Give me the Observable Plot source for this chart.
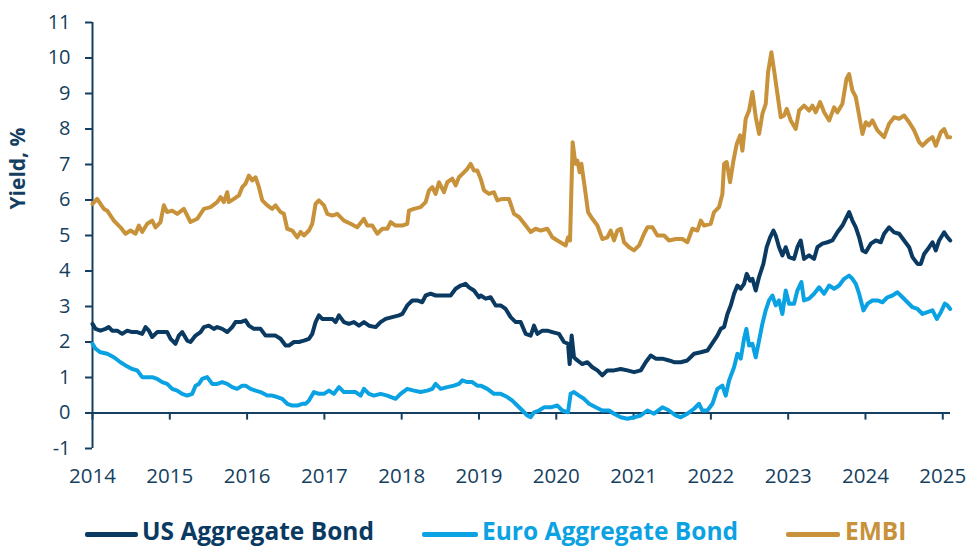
<!DOCTYPE html>
<html>
<head>
<meta charset="utf-8">
<script src="https://cdn.jsdelivr.net/npm/d3@7"></script>
<script src="https://cdn.jsdelivr.net/npm/@observablehq/plot@0.6"></script>
<style>
  html, body { margin: 0; padding: 0; background: #fff; width: 966px; height: 546px; overflow: hidden; }
  #wrap { position: relative; width: 966px; height: 546px; }
  .leg { position: absolute; top: 519px; height: 27px; font-family: "Open Sans", sans-serif; font-weight: 700; font-size: 24.5px; line-height: 24.5px; white-space: nowrap; }
  .sw { position: absolute; top: 532px; height: 5px; border-radius: 2px; }
</style>
</head>
<body>
<div id="wrap"><div id="chart"></div></div>
<script>
// ---- Data (decimal year, yield %) ----
const seriesNames = ["US Aggregate Bond", "Euro Aggregate Bond", "EMBI"];
const seriesColors = ["#0a3a62", "#0aa2e2", "#c8923a"];
const yearTicks = [2014, 2015, 2016, 2017, 2018, 2019, 2020, 2021, 2022, 2023, 2024, 2025];
const yTicks = [-1, 0, 1, 2, 3, 4, 5, 6, 7, 8, 9, 10, 11];

const usAgg = [
  [2014.000,2.51],[2014.039,2.37],[2014.103,2.32],[2014.168,2.37],[2014.211,2.42],[2014.254,2.32],[2014.319,2.32],[2014.384,2.23],
  [2014.449,2.32],[2014.513,2.28],[2014.578,2.28],[2014.643,2.23],[2014.686,2.42],[2014.729,2.32],[2014.772,2.14],[2014.837,2.28],
  [2014.901,2.28],[2014.966,2.28],[2015.010,2.09],[2015.074,1.95],[2015.117,2.18],[2015.160,2.28],[2015.225,2.04],[2015.268,2.00],
  [2015.333,2.18],[2015.398,2.28],[2015.441,2.42],[2015.505,2.46],[2015.570,2.37],[2015.613,2.42],[2015.678,2.37],[2015.743,2.28],
  [2015.807,2.42],[2015.850,2.56],[2015.915,2.56],[2015.980,2.61],[2016.023,2.46],[2016.088,2.37],[2016.174,2.37],[2016.239,2.18],
  [2016.303,2.18],[2016.368,2.18],[2016.433,2.09],[2016.498,1.90],[2016.541,1.90],[2016.606,2.00],[2016.670,2.00],[2016.735,2.04],
  [2016.800,2.09],[2016.843,2.23],[2016.886,2.56],[2016.929,2.75],[2016.972,2.65],[2017.037,2.65],[2017.102,2.65],[2017.145,2.56],
  [2017.188,2.75],[2017.253,2.56],[2017.317,2.51],[2017.382,2.56],[2017.447,2.46],[2017.512,2.56],[2017.577,2.46],[2017.663,2.42],
  [2017.727,2.56],[2017.792,2.65],[2017.878,2.70],[2017.965,2.75],[2018.008,2.79],[2018.072,3.03],[2018.137,3.17],[2018.202,3.17],
  [2018.267,3.12],[2018.310,3.31],[2018.374,3.36],[2018.439,3.31],[2018.504,3.31],[2018.569,3.31],[2018.633,3.31],[2018.698,3.50],
  [2018.763,3.59],[2018.827,3.64],[2018.871,3.54],[2018.935,3.45],[2019.000,3.26],[2019.022,3.31],[2019.086,3.22],[2019.151,3.26],
  [2019.216,3.03],[2019.280,3.03],[2019.345,2.93],[2019.410,2.70],[2019.475,2.56],[2019.539,2.56],[2019.604,2.23],[2019.669,2.18],
  [2019.712,2.46],[2019.755,2.23],[2019.820,2.32],[2019.884,2.32],[2019.949,2.28],[2020.035,2.23],[2020.100,2.00],[2020.152,1.95],
  [2020.173,1.38],[2020.199,2.18],[2020.229,1.57],[2020.273,1.48],[2020.337,1.38],[2020.402,1.43],[2020.467,1.29],[2020.532,1.20],
  [2020.596,1.06],[2020.661,1.20],[2020.747,1.20],[2020.834,1.24],[2020.920,1.20],[2021.006,1.15],[2021.093,1.20],[2021.157,1.43],
  [2021.222,1.62],[2021.287,1.53],[2021.373,1.53],[2021.459,1.48],[2021.524,1.43],[2021.610,1.43],[2021.696,1.48],[2021.783,1.67],
  [2021.869,1.71],[2021.955,1.76],[2021.998,1.90],[2022.041,2.04],[2022.084,2.18],[2022.128,2.37],[2022.171,2.42],[2022.214,2.79],
  [2022.257,3.03],[2022.300,3.36],[2022.343,3.59],[2022.386,3.50],[2022.429,3.64],[2022.464,3.92],[2022.507,3.73],[2022.537,3.78],
  [2022.580,3.45],[2022.623,3.83],[2022.679,4.20],[2022.722,4.67],[2022.766,4.95],[2022.809,5.14],[2022.839,5.00],[2022.882,4.67],
  [2022.925,4.44],[2022.968,4.67],[2023.011,4.39],[2023.076,4.34],[2023.119,4.67],[2023.162,4.86],[2023.205,4.34],[2023.270,4.44],
  [2023.335,4.34],[2023.378,4.67],[2023.443,4.77],[2023.508,4.81],[2023.572,4.86],[2023.637,5.09],[2023.702,5.28],[2023.745,5.47],
  [2023.788,5.66],[2023.831,5.42],[2023.875,5.23],[2023.918,4.95],[2023.961,4.58],[2024.004,4.53],[2024.069,4.77],[2024.133,4.86],
  [2024.198,4.81],[2024.241,5.05],[2024.306,5.23],[2024.371,5.09],[2024.435,5.05],[2024.500,4.86],[2024.565,4.67],[2024.608,4.39],
  [2024.673,4.20],[2024.716,4.20],[2024.759,4.48],[2024.824,4.67],[2024.867,4.81],[2024.910,4.58],[2024.953,4.86],[2025.018,5.09],
  [2025.061,4.95],[2025.096,4.86]
];

const euroAgg = [
  [2014.000,1.95],[2014.039,1.81],[2014.103,1.71],[2014.190,1.67],[2014.276,1.57],[2014.362,1.43],[2014.427,1.34],[2014.513,1.24],
  [2014.578,1.20],[2014.643,1.01],[2014.708,1.01],[2014.772,1.01],[2014.837,0.96],[2014.901,0.87],[2014.966,0.82],[2015.031,0.68],
  [2015.096,0.63],[2015.160,0.54],[2015.225,0.49],[2015.290,0.54],[2015.333,0.77],[2015.376,0.82],[2015.419,0.96],[2015.484,1.01],
  [2015.548,0.82],[2015.613,0.82],[2015.678,0.87],[2015.743,0.82],[2015.807,0.73],[2015.872,0.68],[2015.937,0.77],[2015.980,0.77],
  [2016.045,0.68],[2016.110,0.63],[2016.174,0.59],[2016.261,0.49],[2016.325,0.49],[2016.390,0.45],[2016.455,0.40],[2016.519,0.26],
  [2016.584,0.21],[2016.649,0.21],[2016.714,0.26],[2016.757,0.26],[2016.800,0.35],[2016.865,0.59],[2016.929,0.54],[2016.994,0.54],
  [2017.059,0.63],[2017.123,0.54],[2017.188,0.73],[2017.253,0.59],[2017.317,0.59],[2017.404,0.59],[2017.469,0.49],[2017.512,0.68],
  [2017.577,0.54],[2017.641,0.49],[2017.728,0.54],[2017.814,0.49],[2017.921,0.40],[2017.986,0.54],[2018.072,0.68],[2018.159,0.63],
  [2018.245,0.59],[2018.331,0.63],[2018.396,0.68],[2018.439,0.82],[2018.504,0.68],[2018.590,0.73],[2018.676,0.77],[2018.741,0.82],
  [2018.784,0.92],[2018.849,0.87],[2018.914,0.87],[2018.978,0.77],[2019.022,0.77],[2019.108,0.68],[2019.194,0.54],[2019.280,0.54],
  [2019.367,0.45],[2019.431,0.35],[2019.496,0.21],[2019.561,0.07],[2019.626,-0.07],[2019.669,-0.12],[2019.712,0.02],[2019.776,0.07],
  [2019.841,0.16],[2019.927,0.16],[2020.014,0.21],[2020.078,0.07],[2020.152,0.02],[2020.186,0.54],[2020.229,0.59],[2020.294,0.49],
  [2020.359,0.40],[2020.424,0.26],[2020.510,0.16],[2020.596,0.07],[2020.682,0.07],[2020.747,-0.02],[2020.834,-0.12],[2020.920,-0.16],
  [2021.006,-0.12],[2021.093,-0.07],[2021.179,0.07],[2021.265,-0.02],[2021.373,0.16],[2021.459,0.07],[2021.545,-0.07],[2021.610,-0.12],
  [2021.696,-0.02],[2021.783,0.12],[2021.847,0.26],[2021.890,0.07],[2021.955,0.07],[2022.020,0.26],[2022.084,0.68],[2022.149,0.77],
  [2022.192,0.49],[2022.236,0.92],[2022.300,1.29],[2022.343,1.67],[2022.386,1.53],[2022.429,2.09],[2022.459,2.37],[2022.494,1.90],
  [2022.537,1.95],[2022.580,1.57],[2022.623,2.04],[2022.666,2.51],[2022.709,2.89],[2022.753,3.17],[2022.796,3.31],[2022.839,3.03],
  [2022.882,3.17],[2022.925,2.79],[2022.968,3.45],[2023.011,3.08],[2023.076,3.08],[2023.119,3.45],[2023.171,3.69],[2023.205,3.17],
  [2023.270,3.22],[2023.335,3.36],[2023.400,3.54],[2023.465,3.36],[2023.530,3.59],[2023.594,3.50],[2023.659,3.59],[2023.724,3.78],
  [2023.788,3.87],[2023.831,3.78],[2023.875,3.64],[2023.918,3.36],[2023.974,2.89],[2024.026,3.08],[2024.090,3.17],[2024.155,3.17],
  [2024.220,3.12],[2024.284,3.26],[2024.349,3.31],[2024.414,3.40],[2024.479,3.26],[2024.543,3.12],[2024.608,2.98],[2024.673,2.93],
  [2024.738,2.79],[2024.802,2.84],[2024.867,2.89],[2024.923,2.65],[2024.975,2.84],[2025.027,3.08],[2025.061,3.03],[2025.096,2.93]
];

const embi = [
  [2014.000,5.89],[2014.060,6.03],[2014.147,5.75],[2014.190,5.70],[2014.276,5.42],[2014.362,5.23],[2014.427,5.05],[2014.492,5.14],
  [2014.557,5.05],[2014.600,5.28],[2014.643,5.10],[2014.708,5.33],[2014.772,5.42],[2014.815,5.23],[2014.880,5.38],[2014.923,5.85],
  [2014.966,5.66],[2015.031,5.70],[2015.096,5.61],[2015.182,5.75],[2015.268,5.38],[2015.355,5.47],[2015.441,5.75],[2015.527,5.80],
  [2015.613,5.94],[2015.657,6.08],[2015.700,5.94],[2015.743,6.22],[2015.764,5.94],[2015.829,6.03],[2015.894,6.13],[2015.937,6.36],
  [2015.980,6.46],[2016.023,6.69],[2016.066,6.55],[2016.110,6.64],[2016.153,6.36],[2016.196,5.99],[2016.261,5.85],[2016.325,5.75],
  [2016.368,5.85],[2016.433,5.66],[2016.476,5.61],[2016.519,5.19],[2016.584,5.14],[2016.649,4.95],[2016.692,5.10],[2016.735,5.00],
  [2016.800,5.14],[2016.843,5.33],[2016.886,5.89],[2016.929,5.99],[2016.994,5.85],[2017.037,5.61],[2017.102,5.56],[2017.167,5.61],
  [2017.253,5.42],[2017.339,5.33],[2017.425,5.23],[2017.512,5.47],[2017.555,5.28],[2017.620,5.28],[2017.684,5.05],[2017.749,5.19],
  [2017.814,5.19],[2017.857,5.38],[2017.921,5.28],[2018.008,5.28],[2018.072,5.33],[2018.094,5.70],[2018.159,5.75],[2018.245,5.80],
  [2018.310,5.94],[2018.353,6.27],[2018.396,6.36],[2018.439,6.17],[2018.482,6.50],[2018.547,6.22],[2018.590,6.50],[2018.655,6.60],
  [2018.698,6.41],[2018.741,6.64],[2018.806,6.78],[2018.849,6.88],[2018.892,7.02],[2018.935,6.83],[2018.978,6.83],[2019.022,6.60],
  [2019.065,6.27],[2019.129,6.17],[2019.194,6.22],[2019.237,5.99],[2019.302,6.03],[2019.388,6.03],[2019.453,5.61],[2019.518,5.52],
  [2019.604,5.28],[2019.669,5.10],[2019.733,5.19],[2019.798,5.14],[2019.884,5.19],[2019.949,4.95],[2020.014,4.86],[2020.122,4.72],
  [2020.152,4.95],[2020.178,4.86],[2020.212,7.63],[2020.247,7.02],[2020.273,7.11],[2020.303,6.78],[2020.325,7.02],[2020.368,6.36],
  [2020.411,5.66],[2020.467,5.47],[2020.532,5.28],[2020.596,4.90],[2020.661,4.95],[2020.704,5.14],[2020.747,4.86],[2020.790,5.14],
  [2020.834,5.19],[2020.877,4.81],[2020.942,4.67],[2021.006,4.58],[2021.071,4.72],[2021.136,5.05],[2021.179,5.23],[2021.244,5.23],
  [2021.308,5.00],[2021.394,5.00],[2021.459,4.86],[2021.545,4.90],[2021.632,4.90],[2021.696,4.81],[2021.761,5.19],[2021.826,5.14],
  [2021.869,5.42],[2021.912,5.28],[2021.998,5.33],[2022.041,5.66],[2022.106,5.80],[2022.149,6.17],[2022.171,7.02],[2022.205,7.07],
  [2022.248,6.50],[2022.292,7.11],[2022.335,7.58],[2022.378,7.82],[2022.408,7.39],[2022.451,8.29],[2022.494,8.52],[2022.537,9.04],
  [2022.581,8.33],[2022.624,7.86],[2022.667,8.43],[2022.710,8.71],[2022.740,9.60],[2022.783,10.16],[2022.818,9.65],[2022.861,8.99],
  [2022.904,8.33],[2022.947,8.38],[2022.982,8.57],[2023.033,8.24],[2023.098,8.00],[2023.141,8.52],[2023.206,8.66],[2023.271,8.52],
  [2023.314,8.66],[2023.357,8.47],[2023.413,8.76],[2023.465,8.47],[2023.530,8.24],[2023.594,8.61],[2023.637,8.47],[2023.702,8.71],
  [2023.754,9.41],[2023.788,9.55],[2023.831,9.08],[2023.875,8.90],[2023.918,8.38],[2023.961,7.86],[2024.004,8.19],[2024.047,8.10],
  [2024.090,8.24],[2024.155,7.96],[2024.241,7.77],[2024.306,8.15],[2024.371,8.33],[2024.435,8.29],[2024.500,8.38],[2024.565,8.19],
  [2024.630,7.96],[2024.695,7.63],[2024.738,7.53],[2024.802,7.67],[2024.867,7.77],[2024.910,7.53],[2024.975,7.91],[2025.018,8.00],
  [2025.061,7.77],[2025.096,7.77]
];

// ---- Build table for Plot ----
const seriesData = [usAgg, euroAgg, embi];
const rows = [];
seriesNames.forEach((name, i) => {
  seriesData[i].forEach(([t, v]) => rows.push({t, v, s: name}));
});

const axisColor = "#153f60";

const chart = Plot.plot({
  width: 966,
  height: 505,
  marginLeft: 92,
  marginRight: 16,
  marginTop: 22,
  marginBottom: 57,
  x: {domain: [2014, 2025.1]},
  y: {domain: [-1, 11]},
  color: {domain: seriesNames, range: seriesColors},
  style: {fontFamily: "'Open Sans', sans-serif", fontSize: "20px", color: axisColor, background: "#fff", overflow: "visible"},
  marks: [
    Plot.ruleX([2014], {stroke: axisColor, strokeWidth: 2}),
    Plot.ruleY([0], {stroke: axisColor, strokeWidth: 2}),
    Plot.ruleX(yearTicks, {x: d => d, y1: 0, y2: -0.2, stroke: axisColor, strokeWidth: 2}),
    Plot.axisY({ticks: yTicks, tickSize: 7, tickPadding: 15, stroke: axisColor, strokeWidth: 2, fill: axisColor, fontSize: 20, label: null, tickFormat: d => String(d)}),
    Plot.axisX({ticks: yearTicks, tickSize: 0, tickPadding: 20, fill: axisColor, fontSize: 20.5, label: null, tickFormat: d => String(d)}),
    Plot.line(rows, {x: "t", y: "v", z: "s", stroke: "s", strokeWidth: 4, strokeLinejoin: "round", strokeLinecap: "round"}),
    Plot.text(["Yield, %"], {frameAnchor: "left", rotate: -90, dx: -74, dy: -26, fontWeight: "bold", fontSize: 21, fill: axisColor})
  ]
});
document.getElementById("chart").appendChild(chart);

// ---- Legend (HTML, below the SVG) ----
const legendPos = [{sw: 85, w: 53, tx: 142}, {sw: 422, w: 56, tx: 482}, {sw: 786, w: 54, tx: 845}];
const wrap = document.getElementById("wrap");
seriesNames.forEach((name, i) => {
  const sw = document.createElement("div");
  sw.className = "sw";
  sw.style.left = legendPos[i].sw + "px";
  sw.style.width = legendPos[i].w + "px";
  sw.style.background = seriesColors[i];
  wrap.appendChild(sw);
  const tx = document.createElement("div");
  tx.className = "leg";
  tx.style.left = legendPos[i].tx + "px";
  tx.style.color = seriesColors[i];
  tx.textContent = name;
  wrap.appendChild(tx);
});
</script>
</body>
</html>
